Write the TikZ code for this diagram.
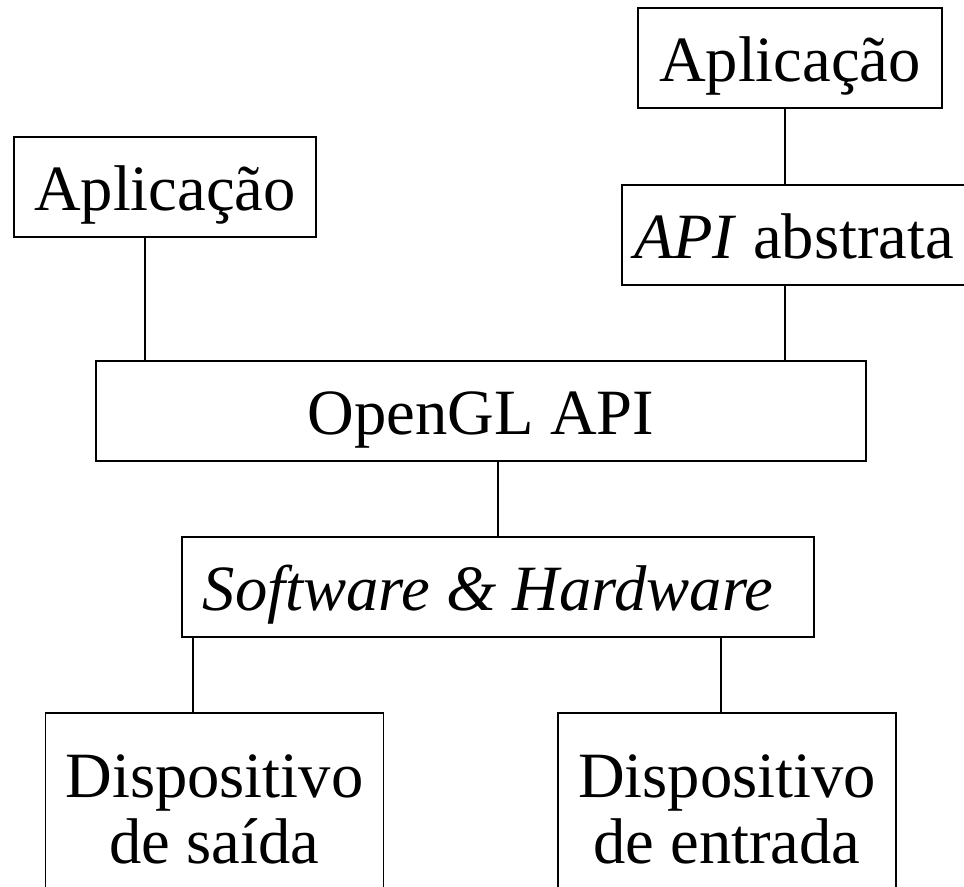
\documentclass[tikz,border=0pt]{standalone}
\usepackage{fontspec}
\setmainfont{Liberation Serif}
\usetikzlibrary{positioning}

\begin{document}
\begin{tikzpicture}[
  x=0.5pt,y=-0.5pt,
  layer/.style={draw,line width=0.9pt,inner sep=0pt,align=center,
    font=\fontsize{32.3}{33}\selectfont,text height=23.3pt,text depth=0pt,
    minimum height=50pt},
  device/.style={layer,minimum width=169pt,minimum height=94pt,
    text height=56.3pt},
  link/.style={line width=0.75pt}
]
\useasboundingbox (0,0) rectangle (964,887);

% upper layers
\node[layer,minimum width=151pt] (appleft) at (165,187) {Aplicação};
\node[layer,minimum width=152pt] (appright) at (790,58) {Aplicação};
\node[layer,minimum width=172pt] (abstract) at (794,235) {\textit{API} abstrata};
\node[layer,minimum width=385pt] (opengl) at (481,411) {OpenGL API};
\node[layer,minimum width=316pt] (swhw) at (498,587)
  {\textit{Software \& Hardware}\hspace{0.3em}};

% devices
\node[device] (output) at (214.5,807) {Dispositivo\\de saída};
\node[device] (input) at (727,807) {Dispositivo\\de entrada};

\draw[link] ([xshift=-10pt]appleft.south) -- ([xshift=-10pt]appleft.south |- opengl.north);
\draw[link] ([xshift=-2.5pt]appright.south) -- ([xshift=-2.5pt]appright.south |- abstract.north);
\draw[link] ([xshift=-2.5pt]appright.south |- abstract.south) -- ([xshift=-2.5pt]appright.south |- opengl.north);
\draw[link] (opengl.south -| swhw.north) -- (swhw.north);
\draw[link] ([xshift=-10.75pt]output.north |- swhw.south) -- ([xshift=-10.75pt]output.north);
\draw[link] ([xshift=-3pt]input.north |- swhw.south) -- ([xshift=-3pt]input.north);
\end{tikzpicture}
\end{document}
